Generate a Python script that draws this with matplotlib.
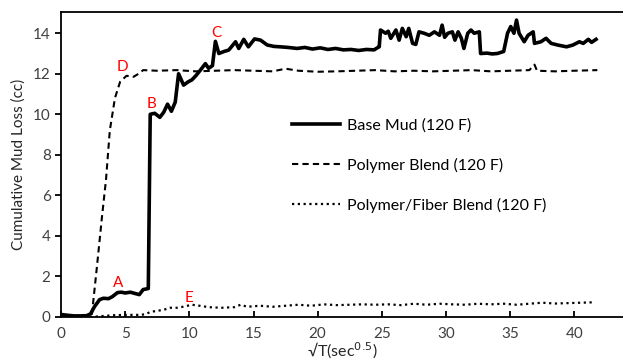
import matplotlib
matplotlib.use("Agg")
import matplotlib.pyplot as plt

# Base Mud (120 F)
x_base = [0, 0.5, 1.0, 1.5, 2.0, 2.3, 2.6, 3.0, 3.3, 3.7, 4.0, 4.4, 4.7, 5.0, 5.4, 5.8,
          6.1, 6.4, 6.8, 6.95, 7.3, 7.7, 8.0, 8.3, 8.6, 8.9, 9.16, 9.55, 9.9, 10.2, 10.5,
          10.86, 11.25, 11.5, 11.8, 12.03, 12.3, 12.7, 13.07, 13.6, 13.85, 14.24, 14.6,
          15.08, 15.55, 16.07, 16.6, 17.1, 17.7, 18.4, 19.0, 19.6, 20.2, 20.8, 21.4, 22.0,
          22.6, 23.2, 23.8, 24.4, 24.7, 24.8, 24.9, 25.3, 25.5, 25.7, 26.1, 26.35, 26.6,
          26.9, 27.1, 27.4, 27.65, 27.9, 28.3, 28.7, 29.1, 29.5, 29.7, 29.9, 30.15, 30.5,
          30.7, 30.95, 31.2, 31.4, 31.7, 31.95, 32.2, 32.6, 32.7, 33.2, 33.6, 34.0, 34.5,
          34.8, 35.05, 35.3, 35.5, 35.7, 36.1, 36.4, 36.8, 36.9, 37.4, 37.8, 38.2, 38.7,
          39.4, 39.9, 40.4, 40.7, 41.1, 41.35, 41.7]
y_base = [0.12, 0.08, 0.05, 0.05, 0.06, 0.15, 0.5, 0.85, 0.92, 0.9, 1.0, 1.2, 1.22, 1.18,
          1.22, 1.15, 1.1, 1.35, 1.4, 10.0, 10.05, 9.85, 10.1, 10.5, 10.15, 10.6, 12.0,
          11.44, 11.6, 11.7, 11.9, 12.18, 12.5, 12.27, 12.4, 13.6, 13.0, 13.1, 13.17,
          13.58, 13.25, 13.7, 13.33, 13.72, 13.66, 13.42, 13.35, 13.33, 13.3, 13.25, 13.3,
          13.22, 13.28, 13.2, 13.25, 13.18, 13.2, 13.15, 13.2, 13.18, 13.3, 13.33, 14.16,
          14.0, 14.1, 13.75, 14.16, 13.66, 14.24, 13.83, 14.24, 13.5, 13.45, 14.07, 14.0,
          13.9, 14.07, 13.9, 14.4, 13.8, 14.0, 14.07, 13.66, 14.07, 13.75, 13.25, 14.0,
          14.16, 14.0, 14.07, 13.0, 13.02, 12.98, 13.0, 13.1, 14.0, 14.33, 14.0, 14.65,
          14.0, 13.58, 13.9, 14.07, 13.5, 13.58, 13.75, 13.5, 13.42, 13.33, 13.42, 13.58,
          13.5, 13.7, 13.55, 13.7]

# Polymer Blend (120 F)
x_poly = [0, 1.0, 2.0, 2.4, 2.8, 3.2, 3.5, 3.8, 4.2, 4.6, 5.1, 5.65, 6.04, 6.4, 7.5, 9.0,
          10.5, 12.0, 13.5, 15.0, 16.5, 17.5, 18.5, 20.0, 21.5, 23.0, 24.5, 26.0, 27.5,
          29.0, 30.5, 32.0, 33.5, 35.0, 36.5, 36.9, 37.1, 38.5, 40.0, 41.8]
y_poly = [0.02, 0.02, 0.03, 0.1, 2.5, 5.0, 6.75, 9.2, 10.8, 11.6, 11.9, 11.85, 12.0, 12.18,
          12.15, 12.18, 12.12, 12.15, 12.18, 12.15, 12.12, 12.25, 12.15, 12.1, 12.12,
          12.15, 12.18, 12.12, 12.15, 12.12, 12.15, 12.18, 12.12, 12.15, 12.18, 12.45,
          12.15, 12.12, 12.15, 12.18]

# Polymer/Fiber Blend (120 F)
x_fib = [0, 1.0, 2.5, 3.0, 4.0, 5.0, 6.0, 6.5, 7.0, 7.5, 8.0, 8.5, 9.0, 9.5, 10.2, 10.8,
         11.5, 12.5, 13.5, 14.0, 14.5, 15.5, 16.5, 17.5, 18.5, 19.5, 20.5, 21.5, 22.5,
         23.5, 24.5, 25.5, 26.5, 27.5, 28.5, 29.5, 30.5, 31.5, 32.5, 33.5, 34.5, 35.5,
         36.5, 37.5, 38.5, 39.5, 40.5, 41.5]
y_fib = [0.0, 0.0, 0.0, 0.03, 0.08, 0.1, 0.1, 0.12, 0.25, 0.3, 0.35, 0.45, 0.45, 0.5, 0.6,
         0.55, 0.48, 0.45, 0.48, 0.6, 0.5, 0.55, 0.5, 0.55, 0.6, 0.55, 0.62, 0.58, 0.6,
         0.62, 0.6, 0.62, 0.58, 0.65, 0.6, 0.65, 0.62, 0.6, 0.65, 0.62, 0.65, 0.6, 0.65,
         0.7, 0.66, 0.68, 0.7, 0.72]

# Etiquetas de puntos
letras = ["A", "B", "C", "D", "E"]
letras_x = [4.48, 7.08, 12.1, 4.8, 9.95]
letras_y = [1.65, 10.5, 14.0, 12.35, 0.95]

plt.rcParams['font.family'] = ['Lato', 'DejaVu Sans']

fig = plt.figure(figsize=(6.23, 3.63), dpi=100)
ax = fig.add_axes([0.098, 0.127, 0.902, 0.84])

ax.plot(x_base, y_base, color='black', lw=2.6, label='Base Mud (120 F)')
ax.plot(x_poly, y_poly, color='black', lw=1.5, linestyle=(0, (3, 2)), label='Polymer Blend (120 F)')
ax.plot(x_fib, y_fib, color='black', lw=1.6, linestyle=(0, (1, 1.6)), label='Polymer/Fiber Blend (120 F)')

for t, lx, ly in zip(letras, letras_x, letras_y):
    ax.text(lx, ly, t, color='red', fontsize=11, ha='center', va='center')

ax.set_xlim(0, 43.8)
ax.set_ylim(0, 15.05)
ax.set_xticks(range(0, 41, 5))
ax.set_yticks(range(0, 15, 2))
ax.spines['right'].set_visible(False)
for s in ['left', 'bottom', 'top']:
    ax.spines[s].set_linewidth(1.3)
ax.tick_params(axis='x', direction='in', length=4, width=1.3, labelsize=11, labelcolor='#404040', pad=7)
ax.tick_params(axis='y', direction='out', length=4, width=1.3, labelsize=11, labelcolor='#404040')

ax.set_xlabel('√T(sec$^{0.5}$)', fontsize=11.5, color='#262626', labelpad=0)
ax.set_ylabel('Cumulative Mud Loss (cc)', fontsize=11, color='#262626', labelpad=5)

ax.legend(loc='upper left', bbox_to_anchor=(0.385, 0.697), frameon=False, fontsize=11.5,
          handlelength=3.0, labelspacing=1.55, handletextpad=0.45)

fig.savefig('out.png', dpi=100)
